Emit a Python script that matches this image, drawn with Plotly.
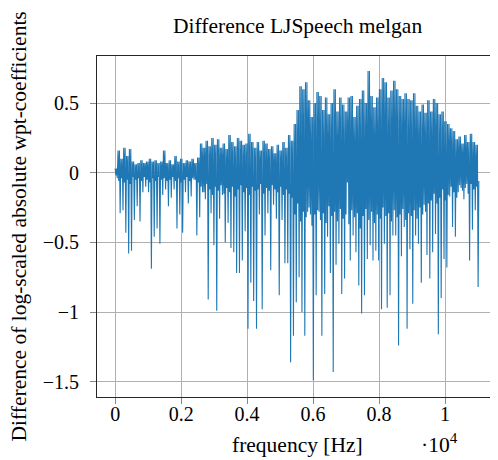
import numpy as np
import plotly.graph_objects as go

# per spike period: the peak, the floor of the
# dense band, and the downward spike
high_vals = [
    0.03, 0.16, 0.10, 0.18, 0.12, 0.17, 0.08, 0.06, 0.07, 0.09,
    0.07, 0.08, 0.10, 0.08, 0.09, 0.07, 0.08, 0.16, 0.07, 0.09,
    0.06, 0.12, 0.08, 0.10, 0.07, 0.09, 0.08, 0.10, 0.07, 0.11,
    0.21, 0.18, 0.23, 0.19, 0.25, 0.20, 0.24, 0.18, 0.21, 0.17,
    0.27, 0.22, 0.19, 0.25, 0.23, 0.20, 0.21, 0.28, 0.22, 0.18,
    0.22, 0.16, 0.23, 0.21, 0.17, 0.19, 0.14, 0.20, 0.16, 0.22,
    0.18, 0.27, 0.23, 0.35, 0.45, 0.62, 0.60, 0.65, 0.52, 0.40,
    0.50, 0.58, 0.55, 0.45, 0.54, 0.42, 0.50, 0.60, 0.44, 0.54,
    0.49, 0.44, 0.54, 0.55, 0.40, 0.48, 0.53, 0.59, 0.50, 0.73,
    0.55, 0.47, 0.54, 0.60, 0.68, 0.65, 0.54, 0.59, 0.66, 0.60,
    0.55, 0.53, 0.57, 0.53, 0.52, 0.57, 0.48, 0.44, 0.49, 0.43,
    0.52, 0.44, 0.53, 0.50, 0.42, 0.44, 0.37, 0.35, 0.32, 0.30,
    0.24, 0.26, 0.21, 0.27, 0.22, 0.28, 0.22, 0.20, -0.06,
]
mid_vals = [
    -0.02, -0.06, -0.04, -0.07, -0.05, -0.08, -0.03, -0.05, -0.04, -0.06,
    -0.03, -0.05, -0.07, -0.04, -0.06, -0.03, -0.05, -0.04, -0.06, -0.05,
    -0.03, -0.06, -0.04, -0.07, -0.05, -0.03, -0.06, -0.04, -0.05, -0.07,
    -0.10, -0.14, -0.08, -0.12, -0.16, -0.10, -0.13, -0.09, -0.15, -0.11,
    -0.14, -0.10, -0.17, -0.12, -0.09, -0.14, -0.11, -0.16, -0.10, -0.13,
    -0.12, -0.08, -0.15, -0.11, -0.13, -0.09, -0.12, -0.14, -0.10, -0.16,
    -0.12, -0.15, -0.18, -0.30, -0.22, -0.35, -0.28, -0.32, -0.25, -0.38,
    -0.30, -0.27, -0.34, -0.29, -0.36, -0.24, -0.31, -0.28, -0.35, -0.26,
    -0.33, -0.30, -0.37, -0.27, -0.32, -0.29, -0.40, -0.31, -0.26, -0.34,
    -0.28, -0.36, -0.30, -0.33, -0.25, -0.31, -0.29, -0.35, -0.27, -0.32,
    -0.30, -0.26, -0.34, -0.29, -0.31, -0.27, -0.33, -0.25, -0.30, -0.28,
    -0.22, -0.20, -0.15, -0.22, -0.18, -0.12, -0.20, -0.16, -0.10, -0.14,
    -0.18, -0.09, -0.13, -0.11, -0.15, -0.08, -0.12, -0.10,
]
low_vals = [
    -0.04, -0.29, -0.27, -0.43, -0.58, -0.56, -0.34, -0.24, -0.35, -0.14,
    -0.10, -0.14, -0.69, -0.46, -0.40, -0.51, -0.16, -0.12, -0.24, -0.18,
    -0.12, -0.40, -0.30, -0.43, -0.14, -0.22, -0.17, -0.05, -0.45, -0.32,
    -0.14, -0.19, -0.91, -0.29, -0.52, -0.99, -0.33, -0.16, -0.50, -0.36,
    -0.54, -0.57, -0.72, -0.72, -0.63, -0.42, -1.12, -0.79, -0.92, -1.12,
    -0.30, -0.98, -0.45, -0.29, -0.70, -0.23, -0.33, -0.88, -0.34, -0.65,
    -0.65, -1.36, -1.17, -0.93, -0.75, -1.00, -1.17, -0.28, -0.30, -1.49,
    -0.88, -0.28, -1.17, -0.87, -0.46, -0.72, -1.43, -0.66, -0.51, -0.87,
    -0.76, -0.07, -0.63, -0.45, -0.57, -0.81, -1.01, -0.88, -0.62, -0.52,
    -0.63, -0.56, -0.63, -0.98, -0.51, -0.97, -0.88, -0.45, -0.45, -1.24,
    -0.60, -0.39, -1.12, -0.55, -0.94, -0.45, -0.51, -0.79, -0.23, -0.59,
    -0.76, -0.57, -0.44, -1.16, -0.90, -0.62, -0.68, -0.17, -0.39, -0.46,
    -0.14, -0.11, -0.19, -0.08, -0.63, -0.41, -0.27, -0.82,
]
x_tick_vals = [0, 2000, 4000, 6000, 8000, 10000]
x_tick_text = ["0", "0.2", "0.4", "0.6", "0.8", "1"]
y_tick_vals = [0.5, 0, -0.5, -1, -1.5]
y_tick_text = ["0.5", "0", "\u22120.5", "\u22121", "\u22121.5"]

# one spectrum: peak, band floor, peak, spike for each period
diff = []
for h, m, l in zip(high_vals, mid_vals, low_vals):
    diff += [h, m, h, l]
diff.append(high_vals[-1])
freqs = np.linspace(0, 11025, len(diff))

FONT = "Liberation Serif"
tick_font = dict(family=FONT, size=20, color="black")
label_font = dict(family=FONT, size=21.5, color="black")

fig = go.Figure(go.Scatter(
    x=freqs, y=diff, mode="lines",
    line=dict(color="#1f77b4", width=1.1),
))
# page body has an 8px margin, so the figure is 8px smaller than the window
fig.update_layout(
    width=490, height=452,
    margin=dict(l=89, r=1, t=48, b=63),
    plot_bgcolor="white", paper_bgcolor="white",
    showlegend=False,
    font=dict(family=FONT, size=20, color="black"),
    xaxis=dict(
        range=[-551, 11576], tickvals=x_tick_vals, ticktext=x_tick_text,
        tickfont=tick_font, ticklabelstandoff=-7,
        showgrid=True, gridcolor="#b0b0b0", gridwidth=1, zeroline=False,
        showline=True, linecolor="#262626", linewidth=1, mirror=True,
        ticks="outside", ticklen=6, tickcolor="#888888",
    ),
    yaxis=dict(
        range=[-1.61, 0.838], tickvals=y_tick_vals, ticktext=y_tick_text,
        tickfont=tick_font, ticklabelstandoff=7,
        showgrid=True, gridcolor="#b0b0b0", gridwidth=1, zeroline=False,
        showline=True, linecolor="#262626", linewidth=1, mirror=True,
        ticks="outside", ticklen=6, tickcolor="#888888",
    ),
    annotations=[
        dict(text="Difference LJSpeech melgan", x=0.5, y=1.0, xref="paper", yref="paper",
             yanchor="middle", yshift=30, showarrow=False, font=label_font),
        dict(text="frequency [Hz]", x=0.5, y=0, xref="paper", yref="paper",
             yanchor="middle", yshift=-48, showarrow=False, font=label_font),
        dict(text="\u00b710<sup>4</sup>", x=0.9075, y=0, xref="paper", yref="paper",
             yanchor="middle", yshift=-46, showarrow=False, font=label_font),
        dict(text="Difference of log-scaled absolute wpt-coefficients", x=0, y=0.5,
             xref="paper", yref="paper", xanchor="center", yanchor="middle",
             xshift=-79, textangle=-90, showarrow=False, font=label_font),
    ],
)
fig.write_html("out.html")
